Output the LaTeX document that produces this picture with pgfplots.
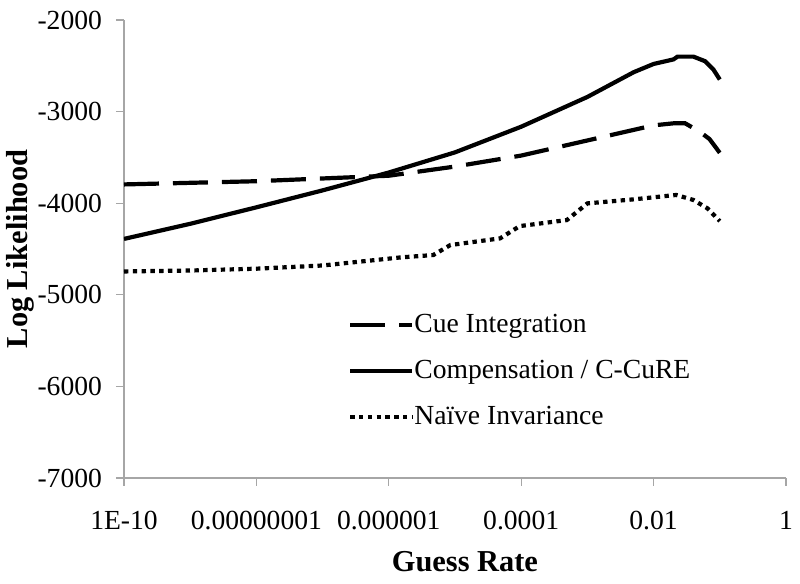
\documentclass[border=0pt]{standalone}
\usepackage{fontspec}
\setmainfont{Liberation Serif}
\usepackage{pgfplots}
\pgfplotsset{compat=1.18}
\begin{document}
\begin{tikzpicture}
\begin{axis}[
  scale only axis,
  width=331pt, height=229pt,
  xmode=log,
  xmin=1e-10, xmax=1,
  ymin=-7000, ymax=-2000,
  axis x line*=bottom, axis y line*=left,
  axis line style={-, draw=black!35, line width=0.6pt},
  tick style={draw=black!35, line width=0.6pt},
  tick align=outside,
  major tick length=4pt,
  minor tick num=0,
  xtick={1e-10,1e-8,1e-6,1e-4,1e-2,1},
  xticklabels={1E-10,0.00000001,0.000001,0.0001,0.01,1},
  ytick={-7000,-6000,-5000,-4000,-3000,-2000},
  yticklabels={-7000,-6000,-5000,-4000,-3000,-2000},
  tick label style={font=\fontsize{13.8}{16}\selectfont, text=black},
  xticklabel style={anchor=base, yshift=-22pt},
  yticklabel style={anchor=east, xshift=-3.5pt},
  xlabel={Guess Rate},
  ylabel={Log Likelihood},
  label style={font=\fontsize{15.2}{18}\selectfont\bfseries},
  xlabel style={at={(axis description cs:0.515,-0.183)}, anchor=center},
  ylabel style={at={(axis description cs:-0.156,0.5)}, anchor=center},
  legend cell align=left,
  legend style={at={(axis description cs:0.338,0.359)}, anchor=north west, draw=none, fill=none,
    font=\fontsize{13.8}{16}\selectfont, row sep=12.5pt, inner sep=0pt,
    nodes={inner sep=0pt, anchor=west}},
  legend image code/.code={\draw[#1] (0pt,0pt) -- (31pt,0pt);},
  /tikz/every even column/.append style={column sep=5pt},
]
\addplot[black, line width=2.1pt, dash pattern=on 17.5pt off 7pt] coordinates {
(1e-10,-3795) (1e-8,-3760) (1e-6,-3700) (3.16e-6,-3650) (1e-5,-3600)
(1e-4,-3480) (1e-3,-3315) (1e-2,-3150) (2e-2,-3128) (3e-2,-3128)
(5e-2,-3220) (7e-2,-3300) (1e-1,-3450)
};
\addlegendentry{Cue Integration}
\addplot[black, line width=2.1pt] coordinates {
(1e-10,-4390) (1e-9,-4225) (1e-8,-4045) (1e-7,-3860) (1e-6,-3665)
(1e-5,-3445) (1e-4,-3165) (1e-3,-2840) (5e-3,-2570) (1e-2,-2480)
(2e-2,-2430) (2.3e-2,-2400) (4e-2,-2400) (6e-2,-2450) (8e-2,-2540) (1e-1,-2650)
};
\addlegendentry{Compensation / C-CuRE}
\addplot[black, line width=2.1pt, dash pattern=on 2.2pt off 2.2pt] coordinates {
(1e-10,-4745) (1e-9,-4735) (1e-8,-4715) (1e-7,-4680) (1.5e-6,-4592)
(4.7e-6,-4566) (8.5e-6,-4457) (4.8e-5,-4384) (9.5e-5,-4250) (4.9e-4,-4184)
(1e-3,-4002) (5e-3,-3958) (2.2e-2,-3910) (4e-2,-3965) (6.5e-2,-4056) (1e-1,-4195)
};
\addlegendentry{Naïve Invariance}
\end{axis}
\pgfresetboundingbox
\path (-62pt,-53pt) rectangle (338pt,239pt);
\end{tikzpicture}
\end{document}
